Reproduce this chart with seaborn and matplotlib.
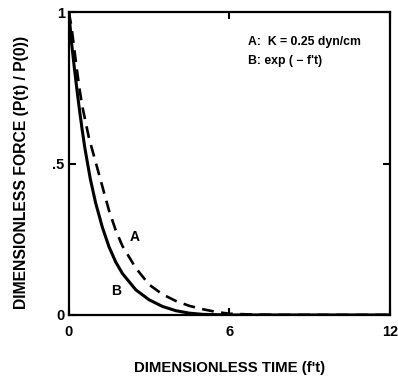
import numpy as np
import pandas as pd
import matplotlib
matplotlib.use("Agg")
import matplotlib.pyplot as plt
import seaborn as sns

# Curve B: exp(-f't)
t_b = [0, 0.1, 0.2, 0.3, 0.4, 0.5, 0.6, 0.8, 1.0, 1.25, 1.5, 1.75, 2.0, 2.5, 3.0, 3.5, 4.0, 4.5, 5.0, 6.0, 8.0, 10.0, 12.0]
p_b = [1.0, 0.90, 0.82, 0.745, 0.675, 0.61, 0.55, 0.45, 0.37, 0.29, 0.225, 0.175, 0.137, 0.083, 0.05, 0.028, 0.014, 0.006, 0.002, 0.0, 0.0, 0.0, 0.0]

# Curve A: K = 0.25 dyn/cm
t_a = [0, 0.1, 0.2, 0.3, 0.4, 0.5, 0.75, 1.0, 1.25, 1.5, 1.75, 2.0, 2.5, 3.0, 3.5, 4.0, 4.5, 5.0, 5.5, 6.0, 7.0, 8.0, 12.0]
p_a = [1.0, 0.95, 0.88, 0.81, 0.745, 0.69, 0.585, 0.505, 0.425, 0.345, 0.28, 0.228, 0.155, 0.10, 0.068, 0.046, 0.03, 0.019, 0.01, 0.004, 0.001, 0.0, 0.0]

x_ticks = [0, 6, 12]
x_ticklabels = ["0", "6", "12"]
y_ticks = [0, 0.5, 1]
y_ticklabels = ["0", ".5", "1"]

sns.set_style("ticks")
plt.rcParams["font.family"] = ["Liberation Sans", "DejaVu Sans"]
plt.rcParams["font.weight"] = "bold"
plt.rcParams["text.color"] = "black"
plt.rcParams["axes.labelcolor"] = "black"
plt.rcParams["xtick.color"] = "black"
plt.rcParams["ytick.color"] = "black"

df = pd.concat([
    pd.DataFrame({"t": t_a, "p": p_a, "curve": "A"}),
    pd.DataFrame({"t": t_b, "p": p_b, "curve": "B"}),
], ignore_index=True)

fig = plt.figure(figsize=(3.98, 3.79), dpi=100)
ax = fig.add_axes([0.173, 0.169, 0.807, 0.799])

sns.lineplot(data=df[df.curve == "B"], x="t", y="p", ax=ax, color="black",
             linewidth=2.2, legend=False)
sns.lineplot(data=df[df.curve == "A"], x="t", y="p", ax=ax, color="black",
             linewidth=1.9, legend=False)
ax.lines[1].set_dashes([4.5, 2.8])

ax.set_xlim(0, 12)
ax.set_ylim(0, 1)
ax.set_xticks(x_ticks)
ax.set_xticklabels(x_ticklabels, fontsize=10.5, fontweight="bold")
ax.set_yticks(y_ticks)
ax.set_yticklabels(y_ticklabels, fontsize=10.5, fontweight="bold")
ax.tick_params(direction="in", top=True, right=True, length=5, width=1.5, colors="black")
ax.tick_params(axis="x", pad=7)
ax.tick_params(axis="y", pad=3)
for s in ax.spines.values():
    s.set_linewidth(1.6)
    s.set_color("black")

ax.set_xlabel("DIMENSIONLESS TIME (f't)", fontsize=10.8, fontweight="bold", labelpad=16)
ax.set_ylabel("DIMENSIONLESS FORCE (P(t) / P(0))", fontsize=11.3, fontweight="bold")
ax.yaxis.set_label_coords(-0.125, 0.47)

ax.text(6.7, 0.902, "A:  K = 0.25 dyn/cm", fontsize=8.8, fontweight="bold", va="center")
ax.text(6.7, 0.84, "B: exp ( \u2212 f't)", fontsize=8.8, fontweight="bold", va="center")
ax.text(2.45, 0.258, "A", fontsize=10, fontweight="bold", ha="center", va="center")
ax.text(1.78, 0.08, "B", fontsize=10, fontweight="bold", ha="center", va="center")

fig.savefig("out.png", dpi=100)
